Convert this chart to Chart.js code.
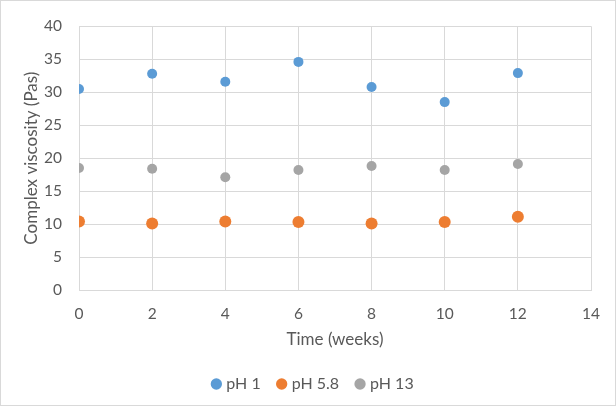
<!DOCTYPE html>
<html>
<head>
<meta charset="utf-8">
<script src="https://cdn.jsdelivr.net/npm/chart.js@4"></script>
<style>
  html, body { margin: 0; padding: 0; background: #fff; }
  #wrap { width: 616px; height: 406px; position: relative; }
</style>
</head>
<body>
<div id="wrap"><canvas id="chart" width="616" height="406"></canvas></div>
<script>
// weeks
const weeks = [0, 2, 4, 6, 8, 10, 12];

// complex viscosity (Pas)
const ph1 = [30.5, 32.8, 31.6, 34.6, 30.8, 28.5, 32.9];
const ph58 = [10.4, 10.1, 10.4, 10.3, 10.1, 10.3, 11.1];
const ph13 = [18.5, 18.4, 17.1, 18.2, 18.8, 18.2, 19.1];

const seriesNames = ['pH 1', 'pH 5.8', 'pH 13'];
const seriesColors = ['#5B9BD5', '#ED7D31', '#A5A5A5'];
const seriesRadius = [5, 6, 5];

const textColor = '#595959';
const gridColor = '#D9D9D9';

function toPoints(values) {
    return weeks.map((w, i) => ({ x: w, y: values[i] }));
}

const datasets = [ph1, ph58, ph13].map((values, i) => ({
    label: seriesNames[i],
    data: toPoints(values),
    backgroundColor: seriesColors[i],
    borderColor: seriesColors[i],
    pointRadius: seriesRadius[i],
    pointHoverRadius: seriesRadius[i],
    pointBorderWidth: 0
}));

// thin grey frame round the whole chart, as in the original
const framePlugin = {
    id: 'frame',
    beforeDraw(chart) {
        const ctx = chart.ctx;
        ctx.save();
        ctx.fillStyle = '#fff';
        ctx.fillRect(0, 0, chart.width, chart.height);
        ctx.strokeStyle = gridColor;
        ctx.lineWidth = 1;
        ctx.strokeRect(0.5, 0.5, chart.width - 1, chart.height - 1);
        ctx.restore();
    }
};

Chart.defaults.font.family = 'Lato, "Liberation Sans", sans-serif';
Chart.defaults.color = textColor;

new Chart(document.getElementById('chart'), {
    type: 'scatter',
    data: { datasets: datasets },
    plugins: [framePlugin],
    options: {
        responsive: false,
        animation: false,
        // left padding a bit wider so the legend sits centred like the original
        layout: { padding: { top: 19, right: 25, left: 37, bottom: 4 } },
        plugins: {
            legend: {
                position: 'bottom',
                labels: {
                    usePointStyle: true,
                    pointStyle: 'circle',
                    boxWidth: 4,
                    boxHeight: 8,
                    padding: 19,
                    font: { size: 16 },
                    color: textColor
                }
            },
            tooltip: { enabled: false }
        },
        scales: {
            x: {
                min: 0,
                max: 14,
                ticks: { stepSize: 2, padding: 15, font: { size: 15.5 }, color: textColor },
                grid: { color: gridColor, drawTicks: false },
                border: { color: gridColor },
                title: { display: true, text: 'Time (weeks)', font: { size: 17 }, color: textColor, padding: { top: 4, bottom: 7 } },
                afterFit: s => { s.height = 67; }
            },
            y: {
                min: 0,
                max: 40,
                ticks: { stepSize: 5, padding: 17, font: { size: 15.5 }, color: textColor },
                grid: { color: gridColor, drawTicks: false },
                border: { display: false },
                title: { display: true, text: 'Complex viscosity (Pas)', font: { size: 17 }, color: textColor, padding: { top: -16, bottom: 0 } },
                afterFit: s => { s.width = 42; }
            }
        }
    }
});
</script>
</body>
</html>
